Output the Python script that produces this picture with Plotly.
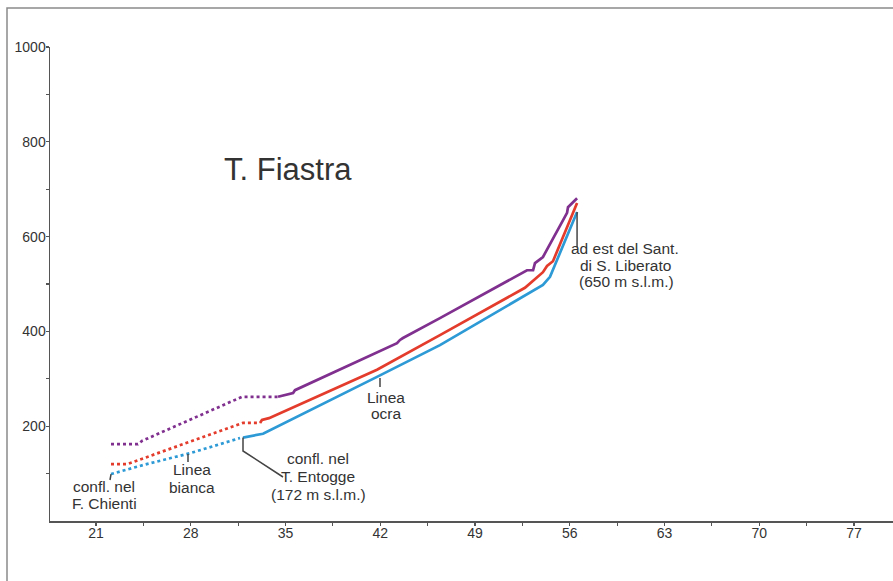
import plotly.graph_objects as go

# ---------------- data (km from the mouth, elevation m a.s.l.) ----------------
# Blue profile (lowest) - dotted part then solid part
blue_dot_km = [22.11, 24.47, 27.95, 31.64]
blue_dot_m = [99, 118, 143, 175]
blue_km = [31.86, 33.34, 41.76, 46.41, 54.02, 54.54, 56.54]
blue_m = [176, 184, 304, 371, 498, 515, 652]

# Red profile (middle)
red_dot_km = [22.11, 23.29, 31.86, 33.12]
red_dot_m = [120, 120, 207, 207]
red_km = [33.12, 33.26, 33.78, 41.76, 46.41, 52.69, 54.02, 54.32, 54.76, 56.54]
red_m = [207, 213, 217, 319, 392, 492, 525, 538, 548, 671]

# Purple profile (highest)
pur_dot_km = [22.11, 24.10, 24.40, 31.79, 34.45]
pur_dot_m = [162, 162, 169, 262, 262]
pur_km = [34.45, 35.56, 35.70, 43.24, 43.46, 43.68, 46.41, 52.84, 53.29, 53.43,
          54.02, 55.80, 55.87, 56.54]
pur_m = [262, 270, 276, 375, 382, 386, 428, 529, 529, 544, 557, 650, 662, 681]

x_ticks = [21, 28, 35, 42, 49, 56, 63, 70, 77]
x_minor = [24.5, 31.5, 38.5, 45.5, 52.5, 59.5, 66.5, 73.5]
y_ticks = [200, 400, 600, 800, 1000]
y_minor = [100, 300, 500, 700, 900]

# ---------------- geometry helpers (layout only) ----------------
W, H = 893, 581
ML, MR, MT, MB = 50, 0, 47, 60
X0, X1 = 17.602, 79.88
Y0, Y1 = 0, 1000
PW, PH = W - ML - MR, H - MT - MB


def kx(px):
    return X0 + (px - ML) / PW * (X1 - X0)


def my(py):
    return Y0 + (H - MB - py) / PH * (Y1 - Y0)


BLUE = "#2d9ad6"
RED = "#e43c2c"
PURPLE = "#80308f"
TXT = "#333333"
LW = 2.7

fig = go.Figure()
for dk, dm, sk, sm, col in [
    (blue_dot_km, blue_dot_m, blue_km, blue_m, BLUE),
    (red_dot_km, red_dot_m, red_km, red_m, RED),
    (pur_dot_km, pur_dot_m, pur_km, pur_m, PURPLE),
]:
    fig.add_trace(go.Scatter(x=dk, y=dm, mode="lines",
                             line=dict(color=col, width=LW, dash="3px,3px"),
                             hoverinfo="skip", showlegend=False))
    fig.add_trace(go.Scatter(x=sk, y=sm, mode="lines",
                             line=dict(color=col, width=LW),
                             hoverinfo="skip", showlegend=False))

FONT = "Liberation Sans, Arial, sans-serif"


def label(px, py, text, size=15.5):
    fig.add_annotation(x=kx(px), y=my(py), xref="x", yref="y", text=text,
                       showarrow=False, xanchor="center", yanchor="middle",
                       font=dict(family=FONT, size=size, color=TXT))


label(288, 169, "T. Fiastra", size=31)
label(625, 248, "ad est del Sant.")
label(625, 265, "di S. Liberato")
label(626, 281, "(650 m s.l.m.)")
label(386, 397, "Linea")
label(386, 413, "ocra")
label(192, 469, "Linea")
label(192, 487, "bianca")
label(104, 486, "confl. nel")
label(104, 503, "F. Chienti")
label(318, 458, "confl. nel")
label(318, 476, "T. Entogge")
label(318, 494, "(172 m s.l.m.)")
label(28, 482, "m")
label(29, 499, "s.l.m.")
label(63, 532, "Km")
label(62, 548, "dalla foce")

LEAD = dict(color="#444444", width=1.5)
# leader lines
fig.add_shape(type="line", x0=blue_km[-1], y0=blue_m[-1], x1=blue_km[-1], y1=my(247),
              xref="x", yref="y", line=LEAD)
fig.add_shape(type="line", x0=kx(380), y0=my(378), x1=kx(380), y1=my(387),
              xref="x", yref="y", line=LEAD)
fig.add_shape(type="line", x0=kx(188), y0=my(454), x1=kx(188), y1=my(462),
              xref="x", yref="y", line=LEAD)
fig.add_shape(type="line", x0=blue_dot_km[0], y0=blue_dot_m[0], x1=kx(110), y1=my(480),
              xref="x", yref="y", line=LEAD)
fig.add_shape(type="path",
              path=f"M {blue_km[0]},{blue_m[0]} L {blue_km[0]},{my(451)} L {kx(283)},{my(477)}",
              xref="x", yref="y", line=LEAD)

# outer frame
fig.add_shape(type="rect", xref="paper", yref="paper",
              x0=(7 - ML) / PW, x1=1.2, y0=-0.3, y1=(H - MB - 8) / PH,
              line=dict(color="#8a8a8a", width=1.5), layer="below")

axis_common = dict(showline=True, linecolor="#555555", linewidth=1.5,
                   ticks="outside", ticklen=3, tickwidth=1.2, tickcolor="#555555",
                   showgrid=False, zeroline=False, fixedrange=True, automargin=False,
                   tickfont=dict(family=FONT, size=14, color=TXT))

fig.update_layout(
    width=W, height=H, autosize=False,
    margin=dict(l=ML, r=MR, t=MT, b=MB, pad=0, autoexpand=False),
    paper_bgcolor="white", plot_bgcolor="white",
    showlegend=False,
    xaxis=dict(range=[X0, X1], tickmode="array", tickvals=x_ticks,
               ticktext=[str(v) for v in x_ticks], ticklabelstandoff=-4,
               minor=dict(tickmode="array", tickvals=x_minor, ticks="outside",
                          ticklen=3, tickcolor="#555555", showgrid=False),
               **axis_common),
    yaxis=dict(range=[Y0, Y1], tickmode="array", tickvals=y_ticks,
               ticktext=[str(v) for v in y_ticks], ticklabelstandoff=-3,
               minor=dict(tickmode="array", tickvals=y_minor, ticks="outside",
                          ticklen=3, tickcolor="#555555", showgrid=False),
               **axis_common),
)

html = fig.to_html(full_html=True, include_plotlyjs=True,
                   config={"displayModeBar": False, "staticPlot": True})
html = html.replace("<head>", "<head><style>html,body{margin:0;padding:0;overflow:hidden;}</style>", 1)
with open("out.html", "w", encoding="utf-8") as f:
    f.write(html)
